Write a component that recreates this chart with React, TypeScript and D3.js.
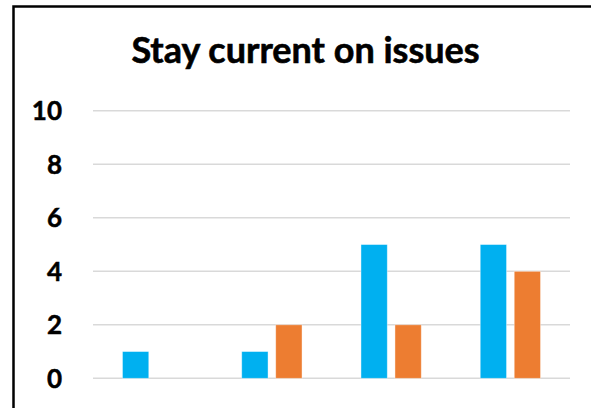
import React from 'react';
import * as d3 from 'd3';

const categories = ['A', 'B', 'C', 'D'];
const seriesNames = ['Series 1', 'Series 2'];
const seriesBlue = [1, 1, 5, 5];
const seriesOrange = [0, 2, 2, 4];
const yTicks = [0, 2, 4, 6, 8, 10];

const colors = ['#00B0F0', '#ED7D31'];

export default function App() {
  const width = 591;
  const height = 408;

  const x = d3.scaleBand<string>().domain(categories).range([93, 570]).padding(0);
  const inner = d3
    .scaleBand<string>()
    .domain(seriesNames)
    .range([0, x.bandwidth()])
    .paddingInner(0.226)
    .paddingOuter(0.867);
  const y = d3.scaleLinear().domain([0, 10]).range([378.3, 110.8]);

  const series = [seriesBlue, seriesOrange];

  return (
    <svg
      width={width}
      height={height}
      style={{ position: 'absolute', left: 0, top: 0, background: '#fff' }}
    >
      <rect x={0} y={0} width={width} height={height} fill="#fff" />
      {/* chart frame */}
      <rect x={13.5} y={6.5} width={width + 20} height={height + 20} fill="none" stroke="#000" strokeWidth={2.5} />

      <text
        x={305.5}
        y={63}
        textAnchor="middle"
        stroke="#000"
        strokeWidth={0.6}
        style={{ fontFamily: 'Lato, sans-serif', fontWeight: 700, fontSize: '36px', fill: '#000' }}
      >
        Stay current on issues
      </text>

      {/* grid + y labels */}
      {yTicks.map(t => (
        <g key={t}>
          <line x1={93} x2={570} y1={y(t)} y2={y(t)} stroke="#D9D9D9" strokeWidth={1.5} />
          <text
            x={62}
            y={y(t)}
            dy="0.36em"
            textAnchor="end"
            stroke="#000"
            strokeWidth={0.5}
            style={{ fontFamily: 'Lato, sans-serif', fontWeight: 700, fontSize: '26px', fill: '#000' }}
          >
            {t}
          </text>
        </g>
      ))}

      {/* bars */}
      {series.map((vals, si) =>
        vals.map((v, ci) =>
          v > 0 ? (
            <rect
              key={`${si}-${ci}`}
              x={(x(categories[ci]) || 0) + (inner(seriesNames[si]) || 0)}
              y={y(v)}
              width={inner.bandwidth()}
              height={y(0) - y(v)}
              fill={colors[si]}
              stroke="#fff"
              strokeOpacity={0.5}
              strokeWidth={0.8}
            />
          ) : null
        )
      )}
    </svg>
  );
}
